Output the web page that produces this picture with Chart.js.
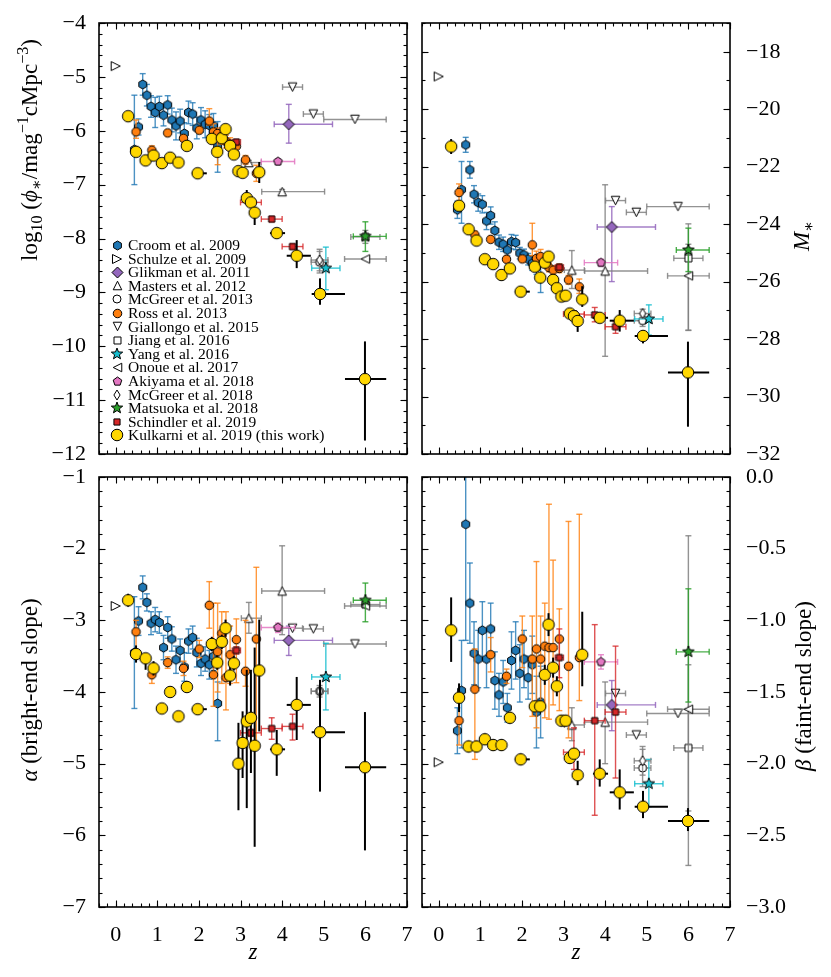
<!DOCTYPE html>
<html><head><meta charset="utf-8">
<script src="https://cdn.jsdelivr.net/npm/chart.js@4.4.1/dist/chart.umd.min.js"></script>
<style>
html,body{margin:0;padding:0;background:#fff;}
#wrap{position:relative;width:831px;height:977px;background:#fff;}
#wrap canvas{position:absolute;left:0;top:0;}
</style></head><body>
<div id="wrap">
<canvas id="cTL" width="831" height="977"></canvas>
<canvas id="cTR" width="831" height="977"></canvas>
<canvas id="cBL" width="831" height="977"></canvas>
<canvas id="cBR" width="831" height="977"></canvas>
</div>
<script>
// ---------------- DATA ----------------
// Croom et al. 2009
const croomZ = [0.45,0.55,0.65,0.75,0.85,0.95,1.05,1.15,1.25,1.35,1.45,1.55,1.65,1.75,1.85,1.95,2.05,2.15,2.25,2.35,2.45];
const croomPhi = [-6.35,-5.93,-5.14,-5.34,-5.55,-5.66,-5.55,-5.71,-5.52,-5.80,-5.91,-5.82,-6.05,-5.66,-5.69,-5.95,-5.80,-5.88,-5.90,-5.91,-6.30];
const croomPhiErr = [[0.65,1.01],0.15,0.2,0.2,0.2,0.28,0.19,0.2,0.17,0.22,0.26,0.22,0.2,0.21,0.21,0.2,0.23,0.25,0.2,0.23,0.47];
const croomM = [-23.5,-22.8,-21.24,-22.11,-22.96,-23.25,-23.31,-23.89,-23.70,-24.22,-24.63,-24.70,-24.9,-24.61,-24.64,-25.01,-25.07,-25.22,-25.36,-25.5,-25.88];
const croomMErr = [0.3,[1.17,0.98],0.26,0.29,0.3,0.3,0.3,0.3,0.3,0.3,0.25,0.25,0.2,0.25,0.25,0.2,0.2,0.2,0.25,0.25,0.5];
const croomAlpha = [-3.45,-3.01,-2.54,-2.75,-3.04,-2.99,-3.03,-3.38,-3.10,-3.26,-3.55,-3.42,-3.65,-3.29,-3.24,-3.45,-3.60,-3.54,-3.62,-3.50,-4.16];
const croomAlphaErr = [0.78,0.2,0.16,0.12,0.16,0.17,0.15,0.17,0.15,0.17,0.19,0.16,0.2,0.17,0.16,0.2,0.17,0.17,0.2,0.2,[0.52,0.3]];
const croomBeta = [-1.77,-1.49,-0.33,-0.88,-1.23,-1.27,-1.07,-1.27,-1.06,-1.42,-1.52,-1.43,-1.61,-1.28,-1.21,-1.37,-1.27,-1.40,-1.31,-1.64,-1.57];
const croomBetaErr = [0.16,[0.4,0.35],[0.81,0.5],0.28,0.22,0.2,0.2,0.2,0.18,0.2,0.15,0.15,0.1,0.2,0.2,0.2,0.2,0.15,0.2,0.25,0.25];

// Schulze et al. 2009
const schulzeZ = [0.0];
const schulzePhi = [-4.80];
const schulzeM = [-18.86];
const schulzeAlpha = [-2.80];
const schulzeBeta = [-1.99];

// Glikman et al. 2011
const glikmanZ = [4.16];
const glikmanZErr = [[0.35,1.05]];
const glikmanPhi = [-5.88];
const glikmanPhiErr = [[0.35,0.37]];
const glikmanM = [-24.1];
const glikmanMErr = [[1.9,0.71]];
const glikmanAlpha = [-3.28];
const glikmanAlphaErr = [[0.21,0.2]];
const glikmanBeta = [-1.59];
const glikmanBetaErr = [[0.18,0.17]];

// Masters et al. 2012
const mastersZ = [3.2, 4.0];
const mastersZErr = [[0.18,0.3],[0.49,1.02]];
const mastersPhi = [-6.59, -7.13];
const mastersPhiErr = [0.04, 0.04];
const mastersM = [-25.6, -25.63];
const mastersMErr = [[0.64,0.68],[2.97,3.0]];
const mastersAlpha = [-2.97, -2.59];
const mastersAlphaErr = [[0.21,0.22],[0.61,0.63]];
const mastersBeta = [-1.73, -1.71];
const mastersBetaErr = [[0.11,0.12],[0.29,0.28]];

// McGreer et al. 2013
const mcg13Z = [4.9];
const mcg13ZErr = [0.2];
const mcg13Phi = [-8.44];
const mcg13PhiErr = [0.2];
const mcg13M = [-27.36];
const mcg13MErr = [0.2];
const mcg13Alpha = [-3.99];
const mcg13AlphaErr = [0.08];
const mcg13Beta = [-2.03];
const mcg13BetaErr = [0.13];

// Ross et al. 2013
const rossZ = [0.49,0.87,1.25,1.63,2.01,2.25,2.35,2.45,2.55,2.65,2.75,2.90,3.12,3.38];
const rossPhi = [-6.02,-6.36,-6.04,-6.14,-5.99,-5.82,-6.02,-6.05,-6.10,-6.20,-6.25,-6.29,-6.54,-6.79];
const rossPhiErr = [[0.12,0.22],0.08,0.06,0.06,0.06,[0.08,0.23],0.15,[0.58,0.1],0.15,0.12,0.12,0.1,0.08,0.15];
const rossM = [-22.9,-24.37,-24.53,-25.22,-25.21,-24.72,-25.19,-25.13,-25.30,-25.51,-25.60,-25.54,-25.94,-26.18];
const rossMErr = [0.3,0.12,0.1,0.1,0.1,[0.38,0.75],0.25,0.25,0.2,0.15,0.15,0.15,0.15,[0.23,0.27]];
const rossAlpha = [-3.16,-3.76,-3.59,-3.67,-3.40,-2.79,-3.76,-3.44,-3.18,-3.80,-3.48,-3.27,-3.71,-3.26];
const rossAlphaErr = [[0.34,0.16],0.12,0.08,0.1,0.12,[0.32,0.33],[0.44,1.0],[0.56,0.68],[0.7,0.3],[0.45,0.92],0.4,[0.6,0.29],[0.21,0.71],[1.5,1.0]];
const rossBeta = [-1.70,-1.48,-1.24,-1.39,-1.13,-1.27,-1.20,-1.27,-1.18,-1.19,-1.19,-1.13,-1.32,-1.26];
const rossBetaErr = [[0.17,0.19],[0.49,0.28],0.12,0.05,[0.2,0.16],[0.4,0.3],[0.55,0.61],0.3,[0.5,0.3],[0.5,1.0],[0.4,0.61],[0.5,0.21],[0.5,1.01],[0.3,1.0]];

// Giallongo et al. 2015
const giallongoZ = [4.25, 4.75, 5.75];
const giallongoZErr = [0.24, 0.24, 0.75];
const giallongoPhi = [-5.19, -5.69, -5.79];
const giallongoM = [-23.18, -23.59, -23.39];
const giallongoAlpha = [-3.11, -3.12, -3.33];
const giallongoBeta = [-1.51, -1.80, -1.65];

// Jiang et al. 2016
const jiangZ = [6.0];
const jiangZErr = [0.35];
const jiangPhi = [-7.97];
const jiangPhiErr = [0.12];
const jiangM = [-25.19];
const jiangMErr = [[2.5,1.2]];
const jiangAlpha = [-2.78];
const jiangBeta = [-1.89];
const jiangBetaErr = [[0.44,0.58]];

// Yang et al. 2016
const yangZ = [5.05];
const yangZErr = [0.34];
const yangPhi = [-8.55];
const yangPhiErr = [[0.4,0.39]];
const yangM = [-27.3];
const yangMErr = [[0.56,0.49]];
const yangAlpha = [-3.79];
const yangAlphaErr = [[0.46,0.47]];
const yangBeta = [-2.14];
const yangBetaErr = [[0.16,0.17]];

// Onoue et al. 2017
const onoueZ = [6.0];
const onoueZErr = [0.5];
const onouePhi = [-8.38];
const onoueM = [-25.8];
const onoueMErr = [[1.9,1.1]];
const onoueAlpha = [-2.80];
const onoueBeta = [-1.62];
const onoueBetaErr = [[1.09,1.21]];

// Akiyama et al. 2018
const akiyamaZ = [3.9];
const akiyamaZErr = [0.4];
const akiyamaPhi = [-6.57];
const akiyamaPhiErr = [0.04];
const akiyamaM = [-25.34];
const akiyamaMErr = [0.12];
const akiyamaAlpha = [-3.10];
const akiyamaAlphaErr = [[0.07,0.06]];
const akiyamaBeta = [-1.29];
const akiyamaBetaErr = [0.05];

// McGreer et al. 2018
const mcg18Z = [4.9];
const mcg18ZErr = [0.2];
const mcg18Phi = [-8.40];
const mcg18PhiErr = [0.2];
const mcg18M = [-27.11];
const mcg18MErr = [0.15];
const mcg18Alpha = [-3.99];
const mcg18Beta = [-1.98];
const mcg18BetaErr = [0.1];

// Matsuoka et al. 2018
const matsuokaZ = [6.0];
const matsuokaZErr = [[0.29,0.5]];
const matsuokaPhi = [-7.96];
const matsuokaPhiErr = [[0.28,0.27]];
const matsuokaM = [-24.9];
const matsuokaMErr = [[0.75,0.76]];
const matsuokaAlpha = [-2.72];
const matsuokaAlphaErr = [[0.3,0.24]];
const matsuokaBeta = [-1.22];
const matsuokaBetaErr = [[0.35,0.44]];

// Schindler et al. 2019
const schindlerZ = [2.9, 3.25, 3.75, 4.25];
const schindlerZErr = [0.1, 0.25, 0.25, 0.25];
const schindlerPhi = [-6.21, -7.33, -7.64, -8.15];
const schindlerPhiErr = [0.05, 0.05, 0.05, 0.05];
const schindlerM = [-25.5, -27.13, -27.16, -27.57];
const schindlerMErr = [0.1, 0.1, [0.24,0.26], [0.23,0.17]];
const schindlerAlpha = [-3.42, -4.57, -4.51, -4.48];
const schindlerAlphaErr = [0.05, 0.05, [0.15,0.15], [0.19,0.17]];
const schindlerBeta = [-1.26, -1.92, -1.70, -1.64];
const schindlerBetaErr = [[0.14,0.2], [0.12,0.17], [0.66,0.67], [0.46,0.46]];

// Kulkarni et al. 2019 (this work)
const kulZ = [0.30,0.49,0.72,0.91,1.11,1.31,1.51,1.71,1.97,2.31,2.44,2.55,2.64,2.75,2.84,2.95,3.05,3.15,3.25,3.34,3.45,3.87,4.35,4.91,5.99];
const kulZErr = [0.12,0.05,0.05,0.05,0.05,0.05,0.05,0.05,[0.14,0.22],0.05,0.05,0.05,0.05,0.05,0.05,0.05,0.05,0.05,0.05,0.05,0.05,[0.16,0.2],[0.24,0.34],[0.2,0.6],[0.48,0.51]];
const kulPhi = [-5.73,-6.39,-6.55,-6.46,-6.60,-6.50,-6.59,-6.28,-6.79,-6.15,-6.39,-6.14,-5.97,-6.28,-6.44,-6.75,-6.78,-7.25,-7.33,-7.52,-6.77,-7.90,-8.32,-9.03,-10.61];
const kulPhiErr = [0.05,0.06,0.05,0.05,0.05,0.05,0.05,0.05,0.05,0.05,0.05,0.05,0.05,0.06,0.06,0.08,0.08,[0.12,0.15],0.08,[0.23,0.05],[0.2,0.19],0.08,[0.23,0.29],[0.2,0.29],[1.14,0.7]];
const kulM = [-21.30,-23.36,-24.18,-24.57,-25.22,-25.39,-25.77,-25.54,-26.35,-25.48,-25.86,-25.34,-25.13,-25.94,-26.23,-26.52,-26.49,-27.11,-27.20,-27.37,-26.62,-27.26,-27.36,-27.89,-29.16];
const kulMErr = [0.26,0.15,0.1,0.1,0.1,0.1,0.1,0.1,0.1,0.1,0.1,0.1,0.1,0.1,0.1,0.12,0.12,0.12,0.12,[0.38,0.05],[0.26,0.46],0.15,[0.38,0.37],[0.26,0.2],[1.89,1.07]];
const kulAlpha = [-2.72,-3.47,-3.53,-3.67,-4.23,-4.00,-4.34,-3.93,-4.24,-3.33,-3.59,-3.30,-3.11,-3.77,-3.60,-5.00,-4.71,-4.41,-4.36,-4.75,-3.70,-4.80,-4.18,-4.56,-5.05];
const kulAlphaErr = [0.09,0.12,[0.16,0.07],0.1,0.06,0.06,0.06,0.06,0.06,0.1,0.1,0.1,0.12,0.14,0.1,[0.65,0.57],[0.49,0.44],[1.21,0.72],[0.77,0.67],[1.41,1.37],[0.85,0.71],[0.37,0.27],[0.49,0.39],[0.83,0.73],[1.16,0.77]];
const kulBeta = [-1.07,-1.54,-1.88,-1.88,-1.83,-1.87,-1.87,-1.68,-1.97,-1.60,-1.60,-1.38,-1.03,-1.33,-1.46,-1.70,-1.70,-1.96,-1.93,-2.08,-1.24,-2.07,-2.20,-2.30,-2.40];
const kulBetaErr = [[0.22,0.23],0.1,0.04,0.04,0.04,0.04,0.04,0.04,0.04,0.04,0.04,0.07,0.08,0.07,0.07,0.04,0.04,0.04,0.04,[0.07,0.1],[0.22,0.3],[0.09,0.1],[0.12,0.16],[0.08,0.11],[0.07,0.09]];

// axis tick settings
const xTickStep = 1, xMinorStep = 0.2;
const phiTicks = {min:-12, max:-4, step:1, minor:0.2, dec:0};
const mTicks = {min:-32, max:-17, step:2, minor:1, dec:0};
const alphaTicks = {min:-7, max:-1, step:1, minor:0.2, dec:0};
const betaTicks = {min:-3, max:0, step:0.5, minor:0.1, dec:1};

// ---------------- STYLES ----------------
const GREY = 'rgba(128,128,128,0.85)';
const SERIES = [
  {label:'Croom et al. 2009', z:croomZ, phi:croomPhi, phiErr:croomPhiErr, M:croomM, MErr:croomMErr, alpha:croomAlpha, alphaErr:croomAlphaErr, beta:croomBeta, betaErr:croomBetaErr,
   st:{shape:'hex', size:9, fill:'#1f77b4', err:'rgba(31,119,180,0.8)', cap:3, lw:1.4}},
  {label:'Schulze et al. 2009', z:schulzeZ, phi:schulzePhi, M:schulzeM, alpha:schulzeAlpha, beta:schulzeBeta,
   st:{shape:'triR', size:9.5, fill:'#ffffff', err:GREY, cap:3, lw:1.4}},
  {label:'Glikman et al. 2011', z:glikmanZ, zErr:glikmanZErr, phi:glikmanPhi, phiErr:glikmanPhiErr, M:glikmanM, MErr:glikmanMErr, alpha:glikmanAlpha, alphaErr:glikmanAlphaErr, beta:glikmanBeta, betaErr:glikmanBetaErr,
   st:{shape:'diamond', size:11, fill:'#9467bd', err:'rgba(148,103,189,0.85)', cap:3, lw:1.4}},
  {label:'Masters et al. 2012', z:mastersZ, zErr:mastersZErr, phi:mastersPhi, phiErr:mastersPhiErr, M:mastersM, MErr:mastersMErr, alpha:mastersAlpha, alphaErr:mastersAlphaErr, beta:mastersBeta, betaErr:mastersBetaErr,
   st:{shape:'triU', size:9, fill:'#ffffff', err:GREY, cap:3, lw:1.4}},
  {label:'McGreer et al. 2013', z:mcg13Z, zErr:mcg13ZErr, phi:mcg13Phi, phiErr:mcg13PhiErr, M:mcg13M, MErr:mcg13MErr, alpha:mcg13Alpha, alphaErr:mcg13AlphaErr, beta:mcg13Beta, betaErr:mcg13BetaErr,
   st:{shape:'circle', size:8, fill:'#ffffff', err:GREY, cap:3, lw:1.4}},
  {label:'Ross et al. 2013', z:rossZ, phi:rossPhi, phiErr:rossPhiErr, M:rossM, MErr:rossMErr, alpha:rossAlpha, alphaErr:rossAlphaErr, beta:rossBeta, betaErr:rossBetaErr,
   st:{shape:'circle', size:8.5, fill:'#ff7f0e', err:'rgba(255,127,14,0.8)', cap:3, lw:1.4}},
  {label:'Giallongo et al. 2015', z:giallongoZ, zErr:giallongoZErr, phi:giallongoPhi, M:giallongoM, alpha:giallongoAlpha, beta:giallongoBeta,
   st:{shape:'triD', size:9, fill:'#ffffff', err:GREY, cap:3, lw:1.4}},
  {label:'Jiang et al. 2016', z:jiangZ, zErr:jiangZErr, phi:jiangPhi, phiErr:jiangPhiErr, M:jiangM, MErr:jiangMErr, alpha:jiangAlpha, beta:jiangBeta, betaErr:jiangBetaErr,
   st:{shape:'square', size:8.5, fill:'#ffffff', err:GREY, cap:3, lw:1.4}},
  {label:'Yang et al. 2016', z:yangZ, zErr:yangZErr, phi:yangPhi, phiErr:yangPhiErr, M:yangM, MErr:yangMErr, alpha:yangAlpha, alphaErr:yangAlphaErr, beta:yangBeta, betaErr:yangBetaErr,
   st:{shape:'star', size:12, fill:'#17becf', err:'rgba(23,190,207,0.85)', cap:3, lw:1.4}},
  {label:'Onoue et al. 2017', z:onoueZ, zErr:onoueZErr, phi:onouePhi, M:onoueM, MErr:onoueMErr, alpha:onoueAlpha, beta:onoueBeta, betaErr:onoueBetaErr,
   st:{shape:'triL', size:9, fill:'#ffffff', err:GREY, cap:3, lw:1.4}},
  {label:'Akiyama et al. 2018', z:akiyamaZ, zErr:akiyamaZErr, phi:akiyamaPhi, phiErr:akiyamaPhiErr, M:akiyamaM, MErr:akiyamaMErr, alpha:akiyamaAlpha, alphaErr:akiyamaAlphaErr, beta:akiyamaBeta, betaErr:akiyamaBetaErr,
   st:{shape:'pent', size:9, fill:'#e377c2', err:'rgba(227,119,194,0.85)', cap:3, lw:1.4}},
  {label:'McGreer et al. 2018', z:mcg18Z, zErr:mcg18ZErr, phi:mcg18Phi, phiErr:mcg18PhiErr, M:mcg18M, MErr:mcg18MErr, alpha:mcg18Alpha, beta:mcg18Beta, betaErr:mcg18BetaErr,
   st:{shape:'tdiamond', size:10, fill:'#ffffff', err:GREY, cap:3, lw:1.4}},
  {label:'Matsuoka et al. 2018', z:matsuokaZ, zErr:matsuokaZErr, phi:matsuokaPhi, phiErr:matsuokaPhiErr, M:matsuokaM, MErr:matsuokaMErr, alpha:matsuokaAlpha, alphaErr:matsuokaAlphaErr, beta:matsuokaBeta, betaErr:matsuokaBetaErr,
   st:{shape:'star', size:12, fill:'#2ca02c', err:'rgba(44,160,44,0.85)', cap:3, lw:1.4}},
  {label:'Schindler et al. 2019', z:schindlerZ, zErr:schindlerZErr, phi:schindlerPhi, phiErr:schindlerPhiErr, M:schindlerM, MErr:schindlerMErr, alpha:schindlerAlpha, alphaErr:schindlerAlphaErr, beta:schindlerBeta, betaErr:schindlerBetaErr,
   st:{shape:'square', size:7.5, fill:'#d62728', err:'rgba(214,39,40,0.8)', cap:3, lw:1.4}},
  {label:'Kulkarni et al. 2019 (this work)', z:kulZ, zErr:kulZErr, phi:kulPhi, phiErr:kulPhiErr, M:kulM, MErr:kulMErr, alpha:kulAlpha, alphaErr:kulAlphaErr, beta:kulBeta, betaErr:kulBetaErr,
   st:{shape:'circle', size:11.5, fill:'#ffd700', err:'#000000', cap:0, lw:2}}
];

const FONT = '"Liberation Serif","DejaVu Serif",serif';

// ---------------- MARKERS ----------------
function makeMarker(shape, size, fill) {
  const lw = 1;
  const S = Math.ceil(size + 4);
  const c = document.createElement('canvas');
  c.width = S; c.height = S;
  const g = c.getContext('2d');
  g.translate(S/2, S/2);
  const r = size/2;
  const poly = (n, rad, rot) => {
    for (let k = 0; k < n; k++) {
      const a = rot + k*2*Math.PI/n;
      const px = rad*Math.cos(a), py = rad*Math.sin(a);
      k ? g.lineTo(px, py) : g.moveTo(px, py);
    }
  };
  g.beginPath();
  const tri = (ang) => {
    const pts = [[0,-r],[-r,r],[r,r]];
    pts.forEach((p,k) => {
      const x = p[0]*Math.cos(ang) - p[1]*Math.sin(ang);
      const y = p[0]*Math.sin(ang) + p[1]*Math.cos(ang);
      k ? g.lineTo(x*0.95, y*0.95) : g.moveTo(x*0.95, y*0.95);
    });
  };
  switch (shape) {
    case 'circle': g.arc(0, 0, r, 0, 2*Math.PI); break;
    case 'hex': poly(6, r, -Math.PI/2); break;
    case 'pent': poly(5, r, -Math.PI/2); break;
    case 'diamond': poly(4, r, -Math.PI/2); break;
    case 'tdiamond': g.moveTo(0,-r); g.lineTo(r*0.62,0); g.lineTo(0,r); g.lineTo(-r*0.62,0); break;
    case 'square': g.rect(-r*0.82, -r*0.82, r*1.64, r*1.64); break;
    case 'triU': tri(0); break;
    case 'triD': tri(Math.PI); break;
    case 'triR': tri(Math.PI/2); break;
    case 'triL': tri(-Math.PI/2); break;
    case 'star':
      for (let k = 0; k < 10; k++) {
        const a = -Math.PI/2 + k*Math.PI/5;
        const rad = k % 2 ? r*0.42 : r;
        k ? g.lineTo(rad*Math.cos(a), rad*Math.sin(a)) : g.moveTo(rad*Math.cos(a), rad*Math.sin(a));
      }
      break;
  }
  g.closePath();
  g.fillStyle = fill; g.fill();
  g.lineWidth = lw; g.strokeStyle = '#000'; g.lineJoin = 'miter'; g.stroke();
  return c;
}
SERIES.forEach(s => { s.img = makeMarker(s.st.shape, s.st.size, s.st.fill); });

// ---------------- PLUGINS ----------------
const pairOf = e => Array.isArray(e) ? e : [e, e];

const errorBars = {
  id: 'errorBars',
  beforeDatasetDraw(chart, args) {
    const ds = chart.data.datasets[args.index];
    const st = ds.errStyle;
    if (!st) return;
    const {ctx, chartArea: a} = chart;
    const xs = chart.scales.x, ys = chart.scales.y;
    ctx.save();
    ctx.beginPath(); ctx.rect(a.left, a.top, a.right - a.left, a.bottom - a.top); ctx.clip();
    ctx.strokeStyle = st.color; ctx.lineWidth = st.lw; ctx.lineCap = 'butt';
    const seg = (x1, y1, x2, y2) => { ctx.beginPath(); ctx.moveTo(x1, y1); ctx.lineTo(x2, y2); ctx.stroke(); };
    ds.data.forEach(p => {
      const px = xs.getPixelForValue(p.x), py = ys.getPixelForValue(p.y);
      if (p.xe != null) {
        const [lo, hi] = pairOf(p.xe);
        const x1 = xs.getPixelForValue(p.x - lo), x2 = xs.getPixelForValue(p.x + hi);
        seg(x1, py, x2, py);
        if (st.cap) { seg(x1, py - st.cap, x1, py + st.cap); seg(x2, py - st.cap, x2, py + st.cap); }
      }
      if (p.ye != null) {
        const [lo, hi] = pairOf(p.ye);
        const y1 = ys.getPixelForValue(p.y - lo), y2 = ys.getPixelForValue(p.y + hi);
        seg(px, y1, px, y2);
        if (st.cap) { seg(px - st.cap, y1, px + st.cap, y1); seg(px - st.cap, y2, px + st.cap, y2); }
      }
    });
    ctx.restore();
  }
};

const frame = {
  id: 'frame',
  afterDatasetsDraw(chart, args, o) {
    const {ctx, chartArea: a} = chart;
    const xs = chart.scales.x, ys = chart.scales.y;
    ctx.save();
    ctx.strokeStyle = '#000'; ctx.lineWidth = 1.1;
    const seg = (x1, y1, x2, y2) => { ctx.beginPath(); ctx.moveTo(x1, y1); ctx.lineTo(x2, y2); ctx.stroke(); };
    const ticks = (scale, step, len, horiz) => {
      const k0 = Math.ceil(scale.min / step - 1e-6), k1 = Math.floor(scale.max / step + 1e-6);
      for (let k = k0; k <= k1; k++) {
        const p = Math.round(scale.getPixelForValue(k * step)) + 0.5;
        if (horiz) { seg(p, a.bottom, p, a.bottom - len); seg(p, a.top, p, a.top + len); }
        else { seg(a.left, p, a.left + len, p); seg(a.right, p, a.right - len, p); }
      }
    };
    ticks(xs, o.xMinor, 3.5, true); ticks(xs, o.xMajor, 6.5, true);
    ticks(ys, o.yMinor, 3.5, false); ticks(ys, o.yMajor, 6.5, false);
    ctx.lineWidth = 1.6;
    ctx.strokeRect(a.left, a.top, a.right - a.left, a.bottom - a.top);
    ctx.restore();
  }
};

const panelLegend = {
  id: 'panelLegend',
  afterDraw(chart, args, o) {
    if (!o || !o.show) return;
    const ctx = chart.ctx;
    ctx.save();
    ctx.font = o.size + 'px ' + FONT;
    ctx.textBaseline = 'middle'; ctx.textAlign = 'left'; ctx.fillStyle = '#000';
    chart.data.datasets.forEach((ds, i) => {
      const y = o.y + i * o.dy;
      const img = ds.pointStyle;
      ctx.drawImage(img, Math.round(o.x - img.width / 2), Math.round(y - img.height / 2));
      ctx.fillText(ds.label, o.textX, y + 1);
    });
    ctx.restore();
  }
};

const richTitles = {
  id: 'richTitles',
  afterDraw(chart, args, o) {
    if (!o || !o.items) return;
    const ctx = chart.ctx;
    o.items.forEach(it => {
      const size = it.size || o.size;
      ctx.save();
      ctx.translate(it.x, it.y);
      ctx.rotate((it.rot || 0) * Math.PI / 180);
      const parts = it.parts.map(p => {
        const s = p.s ? size * 0.7 : size;
        const font = (p.i ? 'italic ' : '') + s + 'px ' + FONT;
        ctx.font = font;
        return {p, font, w: ctx.measureText(p.t).width};
      });
      const total = parts.reduce((acc, q) => acc + q.w, 0);
      let cx = -total / 2;
      ctx.fillStyle = '#000'; ctx.textBaseline = 'alphabetic'; ctx.textAlign = 'left';
      parts.forEach(q => {
        ctx.font = q.font;
        const dy = q.p.s === 'sub' ? size * 0.22 : (q.p.s === 'sup' ? -size * 0.36 : 0);
        ctx.fillText(q.p.t, cx, dy + size * 0.33);
        cx += q.w;
      });
      ctx.restore();
    });
  }
};

// ---------------- PANELS ----------------
function fmt(v, dec) {
  const s = Math.abs(v).toFixed(dec);
  return (v < -1e-9 ? '\u2212' : '') + s;
}

function buildPanel(cfg) {
  const W = 831, H = 977;
  const A = cfg.area;
  const datasets = SERIES.map((s, i) => ({
    label: s.label,
    data: s.z.map((zz, j) => ({
      x: zz,
      y: s[cfg.key][j],
      xe: s.zErr ? s.zErr[j] : null,
      ye: s[cfg.key + 'Err'] ? s[cfg.key + 'Err'][j] : null
    })),
    pointStyle: s.img,
    pointRadius: s.st.size / 2,
    showLine: false,
    order: SERIES.length - i,
    clip: false,
    errStyle: {color: s.st.err, cap: s.st.cap, lw: s.st.lw}
  }));
  const leftY = cfg.yPos === 'left';
  const yW = leftY ? A.l : W - A.r;
  const xH = cfg.xLabels ? H - A.b : 0;
  const fitY = sc => { sc.width = yW; sc.paddingTop = sc.paddingBottom = sc.paddingLeft = sc.paddingRight = 0; };
  const fitX = sc => { sc.height = xH; sc.paddingTop = sc.paddingBottom = sc.paddingLeft = sc.paddingRight = 0; };
  const T = cfg.ticks;
  return new Chart(document.getElementById(cfg.id), {
    type: 'scatter',
    data: {datasets},
    options: {
      responsive: false, animation: false, devicePixelRatio: 1,
      layout: {padding: {left: leftY ? 0 : A.l, top: A.t, right: leftY ? W - A.r : 0, bottom: H - A.b - xH}},
      plugins: {
        legend: {display: false}, tooltip: {enabled: false},
        frame: {xMajor: xTickStep, xMinor: xMinorStep, yMajor: T.step, yMinor: T.minor},
        panelLegend: cfg.legend || {show: false},
        richTitles: {size: 23, items: cfg.titles}
      },
      scales: {
        x: {
          type: 'linear', min: -0.4, max: 7,
          grid: {display: false}, border: {display: false},
          afterFit: fitX,
          ticks: {display: cfg.xLabels, stepSize: xTickStep, includeBounds: false, autoSkip: false, maxRotation: 0, minRotation: 0,
                  padding: 7, color: '#000', font: {family: FONT, size: 22}, callback: v => fmt(v, 0)}
        },
        y: {
          type: 'linear', position: cfg.yPos, min: T.min, max: T.max,
          grid: {display: false}, border: {display: false},
          afterFit: fitY,
          ticks: {stepSize: T.step, includeBounds: false, autoSkip: false,
                  padding: leftY ? 5 : 8, color: '#000', font: {family: FONT, size: 22}, callback: v => fmt(v, T.dec)}
        }
      }
    },
    plugins: [errorBars, frame, panelLegend, richTitles]
  });
}

buildPanel({id: 'cTL', key: 'phi', area: {l: 99, t: 23, r: 407, b: 454}, ticks: phiTicks, yPos: 'left', xLabels: false,
  legend: {show: true, x: 117, y: 245, dy: 13.6, textX: 128, size: 15.5},
  titles: [{x: 29, y: 150, rot: -90, parts: [
    {t: 'log'}, {t: '10', s: 'sub'}, {t: ' ('}, {t: '\u03D5', i: 1}, {t: '\u2217', s: 'sub'}, {t: '/mag'}, {t: '\u22121', s: 'sup'},
    {t: 'cMpc'}, {t: '\u22123', s: 'sup'}, {t: ')'}]}]});
buildPanel({id: 'cTR', key: 'M', area: {l: 422, t: 23, r: 730, b: 454}, ticks: mTicks, yPos: 'right', xLabels: false,
  titles: [{x: 801, y: 236, rot: -90, parts: [{t: 'M', i: 1}, {t: '\u2217', s: 'sub'}]}]});
buildPanel({id: 'cBL', key: 'alpha', area: {l: 99, t: 477, r: 407, b: 907}, ticks: alphaTicks, yPos: 'left', xLabels: true,
  titles: [{x: 29, y: 690, rot: -90, parts: [{t: '\u03B1', i: 1}, {t: ' (bright-end slope)'}]},
           {x: 253, y: 951, rot: 0, parts: [{t: 'z', i: 1}]}]});
buildPanel({id: 'cBR', key: 'beta', area: {l: 422, t: 477, r: 730, b: 907}, ticks: betaTicks, yPos: 'right', xLabels: true,
  titles: [{x: 803, y: 686, rot: -90, parts: [{t: '\u03B2', i: 1}, {t: ' (faint-end slope)'}]},
           {x: 576, y: 951, rot: 0, parts: [{t: 'z', i: 1}]}]});
</script>
</body></html>
